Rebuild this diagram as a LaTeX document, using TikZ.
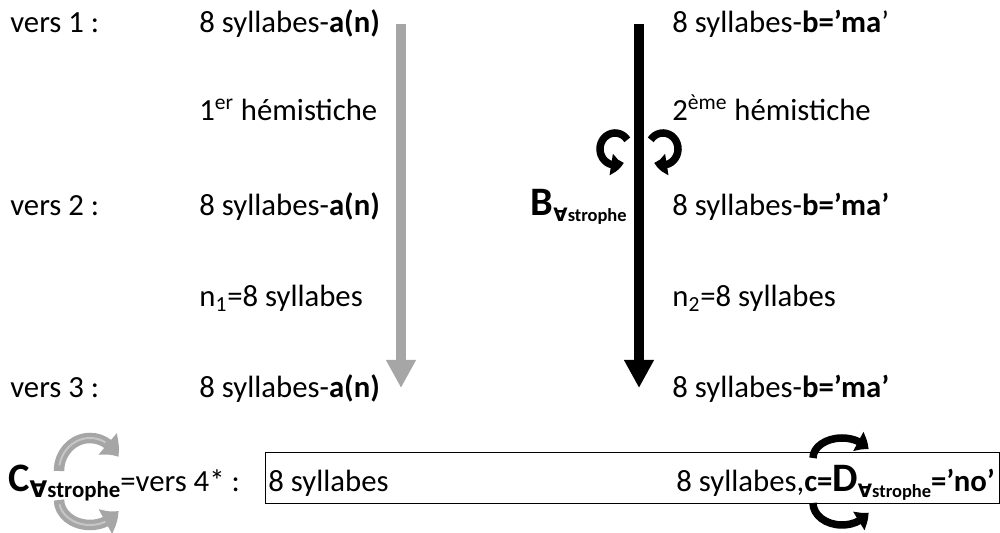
\documentclass[tikz,border=0pt]{standalone}
\usepackage{fontspec}
\setmainfont{Carlito}
\newfontfamily\allfont{DejaVu Sans}
\usepackage{tikz}
\usetikzlibrary{arrows.meta,bending,positioning}

\newcommand{\fs}{\fontsize{17.5}{20}\selectfont}
\newcommand{\strsub}[1][10.5]{\raisebox{-0.35ex}{\fontsize{#1}{12}\selectfont\bfseries{\allfont\bfseries ∀}strophe}}
\newcommand{\bigletter}[1]{{\fontsize{23}{26}\selectfont\bfseries #1}}

\begin{document}
\begin{tikzpicture}[
    x=0.02cm, y=0.02cm,
    txt/.style={anchor=base west, inner sep=0pt, font=\fs},
    flow/.style={line width=0.19cm, -{Triangle[width=0.56cm, length=0.56cm]}},
    turn/.style={line width=0.15cm, -{Triangle[bend, width=0.42cm, length=0.26cm]}},
    roll/.style={turn, draw=gray!70, line width=0.21cm, -{Triangle[bend, width=0.54cm, length=0.34cm]}},
    shine/.style={draw=gray!45, line width=0.04cm}
  ]
    \useasboundingbox (0,0) rectangle (1000,533);

    % the two hemistiches
    \coordinate (gtop) at (401,509);
    \coordinate (gbot) at (401,145);
    \coordinate (ktop) at (639,509);
    \coordinate (kbot) at (639,145);
    \draw[flow, draw=gray!70] (gtop) -- (gbot);
    \draw[flow] (ktop) -- (kbot);

    % rotations
    \coordinate (bl) at (615,384);
    \coordinate (br) at (663,384);
    \draw[turn] (bl) ++(35:15 and 16) arc[start angle=35, end angle=305, x radius=15, y radius=16];
    \draw[turn] (br) ++(145:15 and 16) arc[start angle=145, end angle=-125, x radius=15, y radius=16];
    \coordinate (ct) at (90,62);
    \coordinate (cb) at (90,33);
    \draw[roll] (ct) ++(180:31 and 33) arc[start angle=180, end angle=25, x radius=31, y radius=33];
    \draw[shine] (ct) ++(170:31 and 33) arc[start angle=170, end angle=60, x radius=31, y radius=33];
    \draw[roll] (cb) ++(180:31 and 25) arc[start angle=180, end angle=335, x radius=31, y radius=25];
    \draw[shine] (cb) ++(190:31 and 25) arc[start angle=190, end angle=300, x radius=31, y radius=25];

    % verses
    \node[txt] (v1) at (10,500) {vers 1 :};
    \node[txt] (a1) at (199,500) {8 syllabes-\textbf{a(n)}};
    \node[txt] (h1) at (199,412) {1\textsuperscript{er} hémistiche};
    \node[txt] (v2) at (10,317) {vers 2 :};
    \node[txt] (a2) at (199,317) {8 syllabes-\textbf{a(n)}};
    \node[txt] (n1) at (199,226) {n\textsubscript{1}=8 syllabes};
    \node[txt] (v3) at (10,135) {vers 3 :};
    \node[txt] (a3) at (199,135) {8 syllabes-\textbf{a(n)}};

    \node[txt] (b1) at (672,500) {8 syllabes-\textbf{b=’ma}’};
    \node[txt] (h2) at (672,412) {2\textsuperscript{ème} hémistiche};
    \node[txt, anchor=base east] (bB) at (627,317) {\bigletter{B}\strsub};
    \node[txt] (b2) at (672,317) {8 syllabes-\textbf{b=’ma’}};
    \node[txt] (n2) at (672,226) {n\textsubscript{2}=8 syllabes};
    \node[txt] (b3) at (672,135) {8 syllabes-\textbf{b=’ma’}};

    % verse 4
    \draw (265,30) rectangle (999,81);
    \node[txt] (cC) at (8,41) {\bigletter{C}\strsub[13]=vers 4* :};
    \node[txt] (s4) at (268,41) {8 syllabes};
    \node[txt] (d4) at (676,41) {8 syllabes,\textbf{c=}\bigletter{D}\strsub\textbf{=’no’}};

    \coordinate (dt) at (842,75);
    \coordinate (db) at (842,30);
    \draw[turn] (dt) ++(180:29 and 20) arc[start angle=180, end angle=25, x radius=29, y radius=20];
    \draw[turn] (db) ++(180:29 and 22) arc[start angle=180, end angle=335, x radius=29, y radius=22];
\end{tikzpicture}
\end{document}
